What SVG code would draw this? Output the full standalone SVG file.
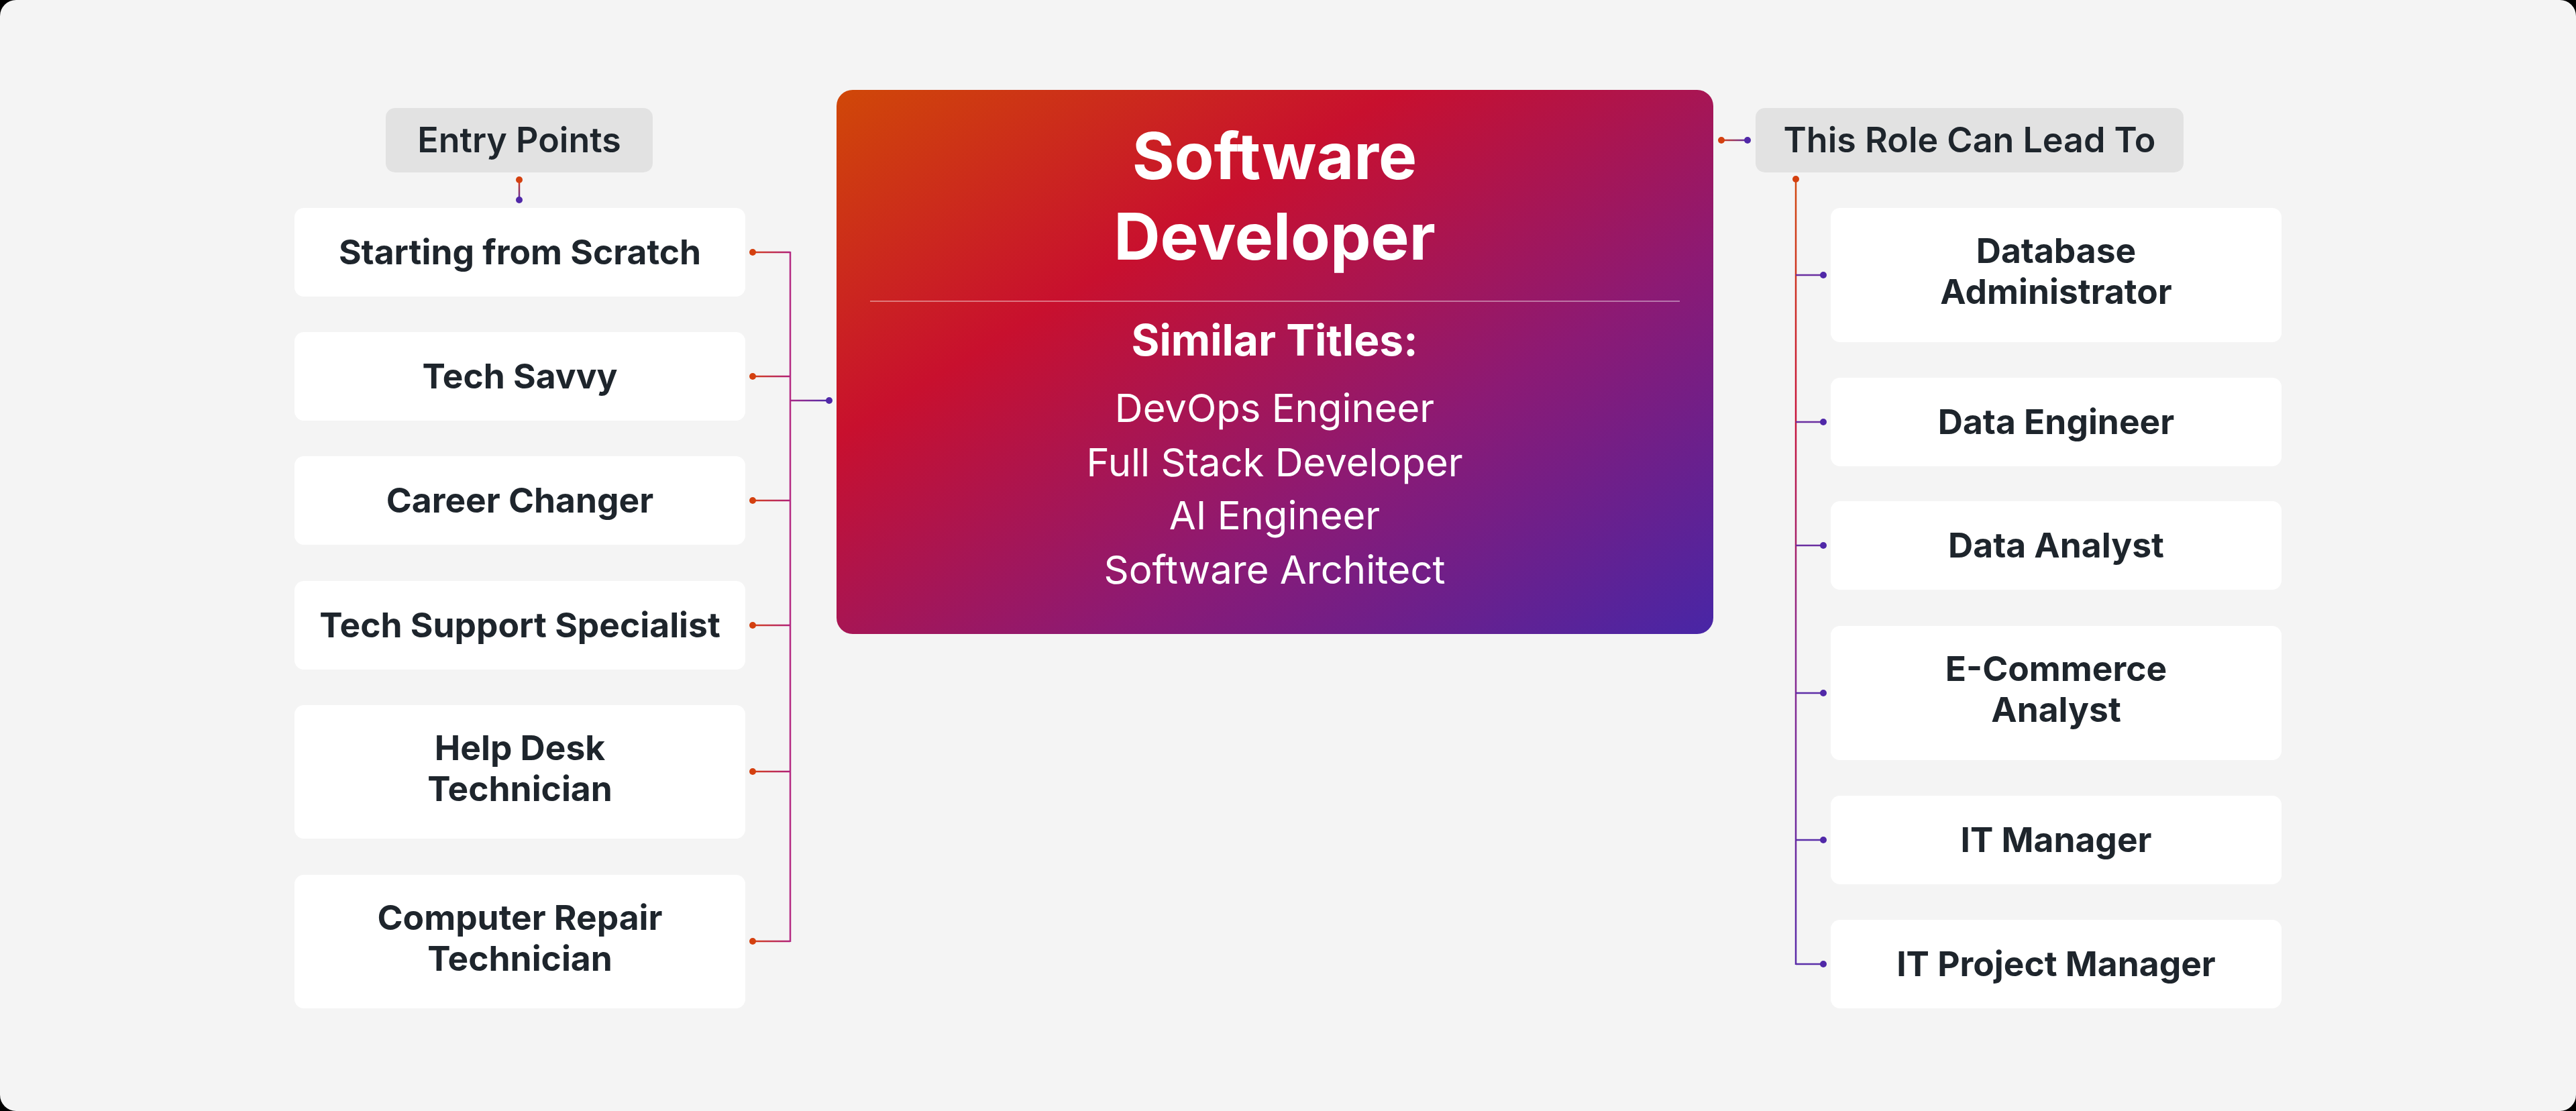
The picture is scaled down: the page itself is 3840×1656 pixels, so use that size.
<svg xmlns="http://www.w3.org/2000/svg" width="3840" height="1656" viewBox="0 0 3840 1656">
  <defs>
    <linearGradient id="gMainBox" x1="0" y1="0" x2="1" y2="1">
      <stop offset="0" stop-color="#d04808"/>
      <stop offset="0.32" stop-color="#c8102e"/>
      <stop offset="0.65" stop-color="#8c1a74"/>
      <stop offset="1" stop-color="#4826a6"/>
    </linearGradient>
    <linearGradient id="gLH" gradientUnits="userSpaceOnUse" x1="1122" y1="0" x2="1178" y2="0">
      <stop offset="0" stop-color="#d4401a"/>
      <stop offset="1" stop-color="#b0207a"/>
    </linearGradient>
    <linearGradient id="gLMain" gradientUnits="userSpaceOnUse" x1="1178" y1="0" x2="1236" y2="0">
      <stop offset="0" stop-color="#a82a88"/>
      <stop offset="1" stop-color="#4b2aa8"/>
    </linearGradient>
    <linearGradient id="gEntry" gradientUnits="userSpaceOnUse" x1="0" y1="268" x2="0" y2="298">
      <stop offset="0" stop-color="#d4401a"/>
      <stop offset="1" stop-color="#5a2aa8"/>
    </linearGradient>
    <linearGradient id="gRH" gradientUnits="userSpaceOnUse" x1="2566" y1="0" x2="2605" y2="0">
      <stop offset="0" stop-color="#d4401a"/>
      <stop offset="1" stop-color="#5a2aa8"/>
    </linearGradient>
    <linearGradient id="gRV" gradientUnits="userSpaceOnUse" x1="0" y1="267" x2="0" y2="1437">
      <stop offset="0" stop-color="#d24a10"/>
      <stop offset="0.3" stop-color="#c8143a"/>
      <stop offset="0.6" stop-color="#8a2a90"/>
      <stop offset="1" stop-color="#5a2aa8"/>
    </linearGradient>
    <style>
      .bg { fill: #f4f4f4; }
      .node rect { fill: #ffffff; }
      .hdr rect { fill: #e2e2e2; }
      .nt { font-family: Inter, "Liberation Sans", sans-serif; font-weight: 700; font-size: 51.5px; fill: #1e252c; text-anchor: middle; }
      .ht { font-family: Inter, "Liberation Sans", sans-serif; font-weight: 600; font-size: 52px; fill: #1e252c; text-anchor: middle; }
      .mt { font-family: Inter, "Liberation Sans", sans-serif; font-weight: 700; font-size: 96px; fill: #ffffff; text-anchor: middle; }
      .st { font-family: Inter, "Liberation Sans", sans-serif; font-weight: 700; font-size: 64px; fill: #ffffff; text-anchor: middle; }
      .it { font-family: Inter, "Liberation Sans", sans-serif; font-weight: 400; font-size: 58px; fill: #ffffff; text-anchor: middle; }
      .ln { fill: none; stroke-width: 2.5; }
      .dr { fill: #d4400f; }
      .dp { fill: #5028a8; }
    </style>
  </defs>

  <rect x="0" y="0" width="3840" height="1656" fill="#000000"/>
  <rect class="bg" x="0" y="0" width="3840" height="1656" rx="24" ry="24"/>

  <g id="connectors">
    <line class="ln" x1="774" y1="268" x2="774" y2="298" stroke="url(#gEntry)"/>
    <circle class="dr" cx="774" cy="268" r="5"/>
    <circle class="dp" cx="774" cy="298" r="5"/>
    <line class="ln" x1="1122" y1="376" x2="1178" y2="376" stroke="url(#gLH)"/>
    <line class="ln" x1="1122" y1="561" x2="1178" y2="561" stroke="url(#gLH)"/>
    <line class="ln" x1="1122" y1="746" x2="1178" y2="746" stroke="url(#gLH)"/>
    <line class="ln" x1="1122" y1="932" x2="1178" y2="932" stroke="url(#gLH)"/>
    <line class="ln" x1="1122" y1="1150" x2="1178" y2="1150" stroke="url(#gLH)"/>
    <line class="ln" x1="1122" y1="1403" x2="1178" y2="1403" stroke="url(#gLH)"/>
    <line class="ln" x1="1178" y1="375" x2="1178" y2="1404" stroke="#b42a82"/>
    <line class="ln" x1="1178" y1="597" x2="1236" y2="597" stroke="url(#gLMain)"/>
    <circle class="dr" cx="1122" cy="376" r="5"/>
    <circle class="dr" cx="1122" cy="561" r="5"/>
    <circle class="dr" cx="1122" cy="746" r="5"/>
    <circle class="dr" cx="1122" cy="932" r="5"/>
    <circle class="dr" cx="1122" cy="1150" r="5"/>
    <circle class="dr" cx="1122" cy="1403" r="5"/>
    <circle class="dp" cx="1236" cy="597" r="5"/>
    <line class="ln" x1="2566" y1="209" x2="2605" y2="209" stroke="url(#gRH)"/>
    <circle class="dr" cx="2566" cy="209" r="5"/>
    <circle class="dp" cx="2605" cy="209" r="5"/>
    <line class="ln" x1="2677" y1="267" x2="2677" y2="1438" stroke="url(#gRV)"/>
    <line class="ln" x1="2677" y1="410" x2="2718" y2="410" stroke="#6a2ea0"/>
    <line class="ln" x1="2677" y1="629" x2="2718" y2="629" stroke="#6a2ea0"/>
    <line class="ln" x1="2677" y1="813" x2="2718" y2="813" stroke="#6a2ea0"/>
    <line class="ln" x1="2677" y1="1033" x2="2718" y2="1033" stroke="#5e2ea6"/>
    <line class="ln" x1="2677" y1="1252" x2="2718" y2="1252" stroke="#5a2ea8"/>
    <line class="ln" x1="2677" y1="1437" x2="2718" y2="1437" stroke="#5a2ea8"/>
    <circle class="dr" cx="2677" cy="267" r="5"/>
    <circle class="dp" cx="2718" cy="410" r="5"/>
    <circle class="dp" cx="2718" cy="629" r="5"/>
    <circle class="dp" cx="2718" cy="813" r="5"/>
    <circle class="dp" cx="2718" cy="1033" r="5"/>
    <circle class="dp" cx="2718" cy="1252" r="5"/>
    <circle class="dp" cx="2718" cy="1437" r="5"/>
  </g>

  <g id="main">
    <rect x="1247" y="134" width="1307" height="811" rx="24" ry="24" fill="url(#gMainBox)"/>
    <text class="mt" x="1900" y="267">Software</text>
    <text class="mt" x="1900" y="387">Developer</text>
    <line x1="1297" y1="449" x2="2504" y2="449" stroke="#ffffff" stroke-opacity="0.4" stroke-width="2"/>
    <text class="st" x="1900" y="530">Similar Titles:</text>
    <text class="it" x="1900" y="629">DevOps Engineer</text>
    <text class="it" x="1900" y="710">Full Stack Developer</text>
    <text class="it" x="1900" y="789">AI Engineer</text>
    <text class="it" x="1900" y="870">Software Architect</text>
  </g>

  <g id="hdr-entry" class="hdr">
    <rect x="575" y="161" width="398" height="96" rx="14" ry="14"/>
    <text class="ht" x="774" y="227">Entry Points</text>
  </g>
  <g id="hdr-lead" class="hdr">
    <rect x="2617" y="161" width="638" height="96" rx="14" ry="14"/>
    <text class="ht" x="2936" y="227">This Role Can Lead To</text>
  </g>

  <g id="n-scratch" class="node">
    <rect x="439" y="310" width="672" height="132" rx="14" ry="14"/>
    <text class="nt" x="775" y="394">Starting from Scratch</text>
  </g>
  <g id="n-savvy" class="node">
    <rect x="439" y="495" width="672" height="132" rx="14" ry="14"/>
    <text class="nt" x="775" y="579">Tech Savvy</text>
  </g>
  <g id="n-changer" class="node">
    <rect x="439" y="680" width="672" height="132" rx="14" ry="14"/>
    <text class="nt" x="775" y="764">Career Changer</text>
  </g>
  <g id="n-support" class="node">
    <rect x="439" y="866" width="672" height="132" rx="14" ry="14"/>
    <text class="nt" x="775" y="950">Tech Support Specialist</text>
  </g>
  <g id="n-helpdesk" class="node">
    <rect x="439" y="1051" width="672" height="199" rx="14" ry="14"/>
    <text class="nt" x="775" y="1133">Help Desk</text>
    <text class="nt" x="775" y="1194">Technician</text>
  </g>
  <g id="n-repair" class="node">
    <rect x="439" y="1304" width="672" height="199" rx="14" ry="14"/>
    <text class="nt" x="775" y="1386">Computer Repair</text>
    <text class="nt" x="775" y="1447">Technician</text>
  </g>

  <g id="n-dba" class="node">
    <rect x="2729" y="310" width="672" height="200" rx="14" ry="14"/>
    <text class="nt" x="3065" y="392">Database</text>
    <text class="nt" x="3065" y="453">Administrator</text>
  </g>
  <g id="n-dataeng" class="node">
    <rect x="2729" y="563" width="672" height="132" rx="14" ry="14"/>
    <text class="nt" x="3065" y="647">Data Engineer</text>
  </g>
  <g id="n-analyst" class="node">
    <rect x="2729" y="747" width="672" height="132" rx="14" ry="14"/>
    <text class="nt" x="3065" y="831">Data Analyst</text>
  </g>
  <g id="n-ecom" class="node">
    <rect x="2729" y="933" width="672" height="200" rx="14" ry="14"/>
    <text class="nt" x="3065" y="1015">E-Commerce</text>
    <text class="nt" x="3065" y="1076">Analyst</text>
  </g>
  <g id="n-itm" class="node">
    <rect x="2729" y="1186" width="672" height="132" rx="14" ry="14"/>
    <text class="nt" x="3065" y="1270">IT Manager</text>
  </g>
  <g id="n-itpm" class="node">
    <rect x="2729" y="1371" width="672" height="132" rx="14" ry="14"/>
    <text class="nt" x="3065" y="1455">IT Project Manager</text>
  </g>
</svg>
